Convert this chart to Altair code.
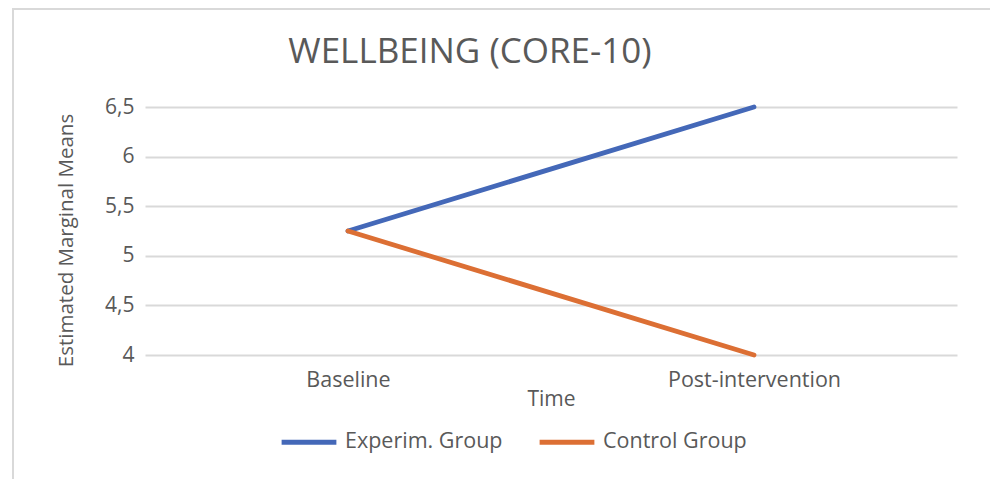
import altair as alt
import pandas as pd

times = ["Baseline", "Post-intervention"]
groups = ["Experim. Group", "Control Group"]
experim_values = [5.25, 6.5]
control_values = [5.25, 4.0]
y_ticks = [4, 4.5, 5, 5.5, 6, 6.5]
colors = ["#4468B8", "#DC6F34"]

rows = []
for t, v in zip(times, experim_values):
    rows.append({"Time": t, "Group": groups[0], "Mean": v})
for t, v in zip(times, control_values):
    rows.append({"Time": t, "Group": groups[1], "Mean": v})
df = pd.DataFrame(rows)

FONT = "Open Sans"
TXT = "#595959"

lines = alt.Chart(df).mark_line(strokeWidth=4.8, strokeCap="round").encode(
    x=alt.X("Time:N", sort=times,
            scale=alt.Scale(type="point", padding=0.5),
            axis=alt.Axis(title="Time", labelAngle=0, domain=False, ticks=False,
                          labelPadding=14, titlePadding=-2, labelFontSize=21.5,
                          titleFontSize=21, labelColor=TXT, titleColor=TXT,
                          titleFontWeight="normal", labelFont=FONT, titleFont=FONT)),
    y=alt.Y("Mean:Q", scale=alt.Scale(domain=[4, 6.5], nice=False, zero=False),
            axis=alt.Axis(title="Estimated Marginal Means", values=y_ticks,
                          labelExpr="replace(format(datum.value, '.1~f'), '.', ',')",
                          domain=False, ticks=False, grid=True, gridColor="#d9d9d9",
                          gridWidth=2, labelPadding=11, labelFontSize=21,
                          titleFontSize=20.5, labelColor=TXT, titleColor=TXT,
                          titleFontWeight="normal", titlePadding=28, titleY=133,
                          labelFont=FONT, titleFont=FONT)),
    color=alt.Color("Group:N", scale=alt.Scale(domain=groups, range=colors),
                    legend=alt.Legend(title=None, orient="none", legendX=134, legendY=305,
                                      direction="horizontal", symbolType="stroke",
                                      symbolSize=3000, symbolStrokeWidth=5,
                                      labelFontSize=21.5, labelColor=TXT, labelFont=FONT,
                                      labelOffset=6, columnPadding=26)),
    order=alt.Order("Time:N"),
)

frame_top = alt.Chart(alt.Data(values=[{"k": 1}])).mark_rule(color="#d9d9d9", strokeWidth=2).encode(
    x=alt.value(-133), x2=alt.value(853), y=alt.value(-98)
)
frame_left = alt.Chart(alt.Data(values=[{"k": 1}])).mark_rule(color="#d9d9d9", strokeWidth=2).encode(
    x=alt.value(-132), y=alt.value(-98), y2=alt.value(385)
)

chart = alt.layer(frame_top, frame_left, lines).properties(
    width=812, height=248,
    padding={"left": 137, "top": 99, "right": 33, "bottom": 124},
    autosize=alt.AutoSizeParams(type="none"),
    background="white",
    title=alt.TitleParams("WELLBEING (CORE-10)", font=FONT, fontSize=35,
                          fontWeight="normal", color=TXT, anchor="middle",
                          dx=-81, dy=66),
).configure_view(strokeWidth=0, stroke="transparent")

chart.save("out.html", embed_options={"renderer": "svg", "actions": False})
